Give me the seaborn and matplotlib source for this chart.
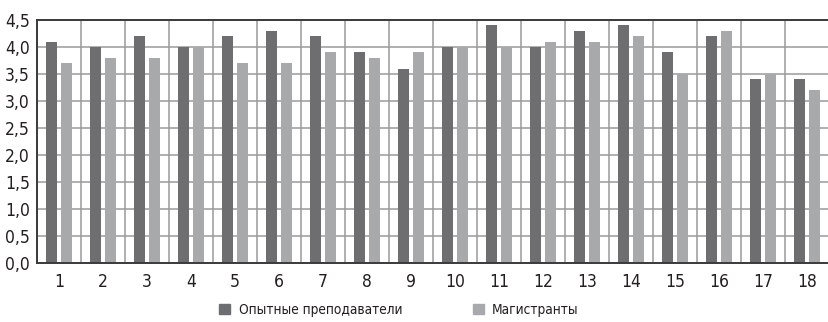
import pandas as pd
import numpy as np
import matplotlib
matplotlib.use("Agg")
import matplotlib.pyplot as plt
import seaborn as sns
from matplotlib.ticker import FuncFormatter, MultipleLocator

categories = [str(i) for i in range(1, 19)]
teachers = [4.1, 4.0, 4.2, 4.0, 4.2, 4.3, 4.2, 3.9, 3.6, 4.0, 4.4, 4.0, 4.3, 4.4, 3.9, 4.2, 3.4, 3.4]
students = [3.7, 3.8, 3.8, 4.0, 3.7, 3.7, 3.9, 3.8, 3.9, 4.0, 4.0, 4.1, 4.1, 4.2, 3.5, 4.3, 3.5, 3.2]
series = ["Опытные преподаватели", "Магистранты"]

data = pd.DataFrame({
    "cat": categories * 2,
    "value": teachers + students,
    "group": [series[0]] * len(categories) + [series[1]] * len(categories),
})

sns.set_style("white")
plt.rcParams['font.family'] = ['DejaVu Sans']
plt.rcParams['font.stretch'] = 'condensed'

fig = plt.figure(figsize=(8.29, 3.22), dpi=100)
ax = fig.add_axes([37 / 829, 59 / 322, 792 / 829, 243 / 322])

sns.barplot(data=data, x="cat", y="value", hue="group", order=categories,
            hue_order=series, palette=["#6d6e71", "#a7a9ac"], width=0.68,
            gap=0.26, linewidth=0, ax=ax, zorder=3)

ax.set_xlim(-0.5, 17.5)
ax.set_ylim(0, 4.5)
ax.yaxis.set_major_locator(MultipleLocator(0.5))
ax.yaxis.set_major_formatter(FuncFormatter(lambda v, p: f"{v:.1f}".replace(".", ",")))
ax.set_xticks(np.arange(-0.5, 18, 1), minor=True)
ax.grid(axis="y", which="major", color="#9a9a9a", linewidth=1.1, zorder=0)
ax.grid(axis="x", which="minor", color="#9a9a9a", linewidth=1.1, zorder=0)
ax.grid(axis="x", which="major", visible=False)
ax.set_axisbelow(True)
ax.tick_params(axis="both", which="both", length=0, labelsize=12.5, colors="#231f20")
ax.tick_params(axis="y", pad=5)
ax.tick_params(axis="x", pad=7)
ax.set_xlabel("")
ax.set_ylabel("")

for side in ["left", "bottom", "top"]:
    ax.spines[side].set_visible(True)
    ax.spines[side].set_color("#3a3a3a")
    ax.spines[side].set_linewidth(1.4)
    ax.spines[side].set_zorder(4)
ax.spines["right"].set_visible(False)

ax.legend_.remove()
handles = [plt.Rectangle((0, 0), 1, 1, color=c) for c in ["#6d6e71", "#a7a9ac"]]
fig.legend(handles, series, loc="center", bbox_to_anchor=(399 / 829, 1 - 310 / 322),
           ncol=2, frameon=False, fontsize=9.8, handlelength=0.8, handleheight=0.8,
           columnspacing=5.2, handletextpad=0.6, labelcolor="#231f20")

fig.savefig("out.png", dpi=100)
